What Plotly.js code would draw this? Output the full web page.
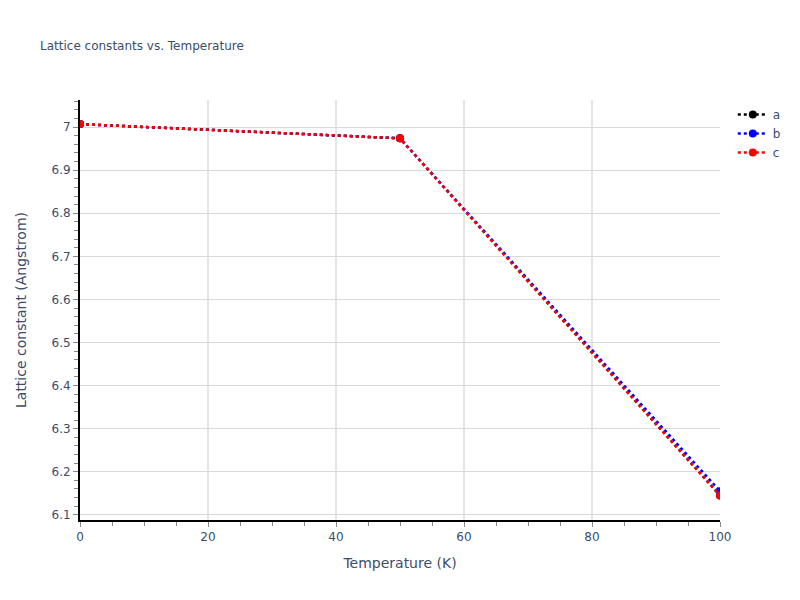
<!DOCTYPE html>
<html>
<head>
<meta charset="utf-8">
<script src="https://cdn.plot.ly/plotly-3.0.1.min.js"></script>
<style>body{margin:0;padding:0;}#chart{width:800px;height:600px;}</style>
</head>
<body>
<div id="chart"></div>
<script>
const temperature = [0, 50, 100];
const latticeA = [7.007, 6.974, 6.145];
const latticeB = [7.007, 6.974, 6.155];
const latticeC = [7.007, 6.974, 6.145];
const seriesNames = ['a', 'b', 'c'];
const seriesColors = ['black', 'blue', 'red'];

const allSeries = [latticeA, latticeB, latticeC];
const traces = allSeries.map((vals, i) => ({
  x: temperature,
  y: vals,
  name: seriesNames[i],
  type: 'scatter',
  mode: 'lines+markers',
  line: {color: seriesColors[i], dash: 'dot', width: 2.5},
  marker: {color: seriesColors[i], size: 8}
}));

const layout = {
  width: 800, height: 600,
  margin: {l: 80, r: 80, t: 100, b: 80},
  paper_bgcolor: 'white',
  plot_bgcolor: 'white',
  font: {family: '"DejaVu Sans", verdana, sans-serif', color: '#3b4d6b', size: 12},
  title: {text: 'Lattice constants vs. Temperature', font: {size: 12}, x: 0.05},
  xaxis: {
    title: {text: 'Temperature (K)', font: {size: 14}, standoff: 15},
    range: [0, 100],
    showline: true, linecolor: 'black', linewidth: 2,
    ticks: 'outside', tickcolor: '#888', ticklen: 5,
    showgrid: true, gridcolor: '#e5e5e5', gridwidth: 2,
    zeroline: false,
    dtick: 20,
    minor: {ticks: 'outside', dtick: 5, ticklen: 4, tickcolor: '#888', showgrid: false}
  },
  yaxis: {
    title: {text: 'Lattice constant (Angstrom)', font: {size: 14}, standoff: 22},
    range: [6.088, 7.063],
    showline: true, linecolor: 'black', linewidth: 2,
    ticks: 'outside', tickcolor: '#888', ticklen: 5,
    showgrid: true, gridcolor: '#d9d9d9', gridwidth: 1,
    zeroline: false,
    dtick: 0.1,
    minor: {ticks: 'outside', dtick: 0.02, ticklen: 4, tickcolor: '#888', showgrid: false}
  },
  legend: {x: 1.02, y: 1, font: {size: 12}},
  showlegend: true
};

Plotly.newPlot('chart', traces, layout, {displayModeBar: false});
</script>
</body>
</html>
